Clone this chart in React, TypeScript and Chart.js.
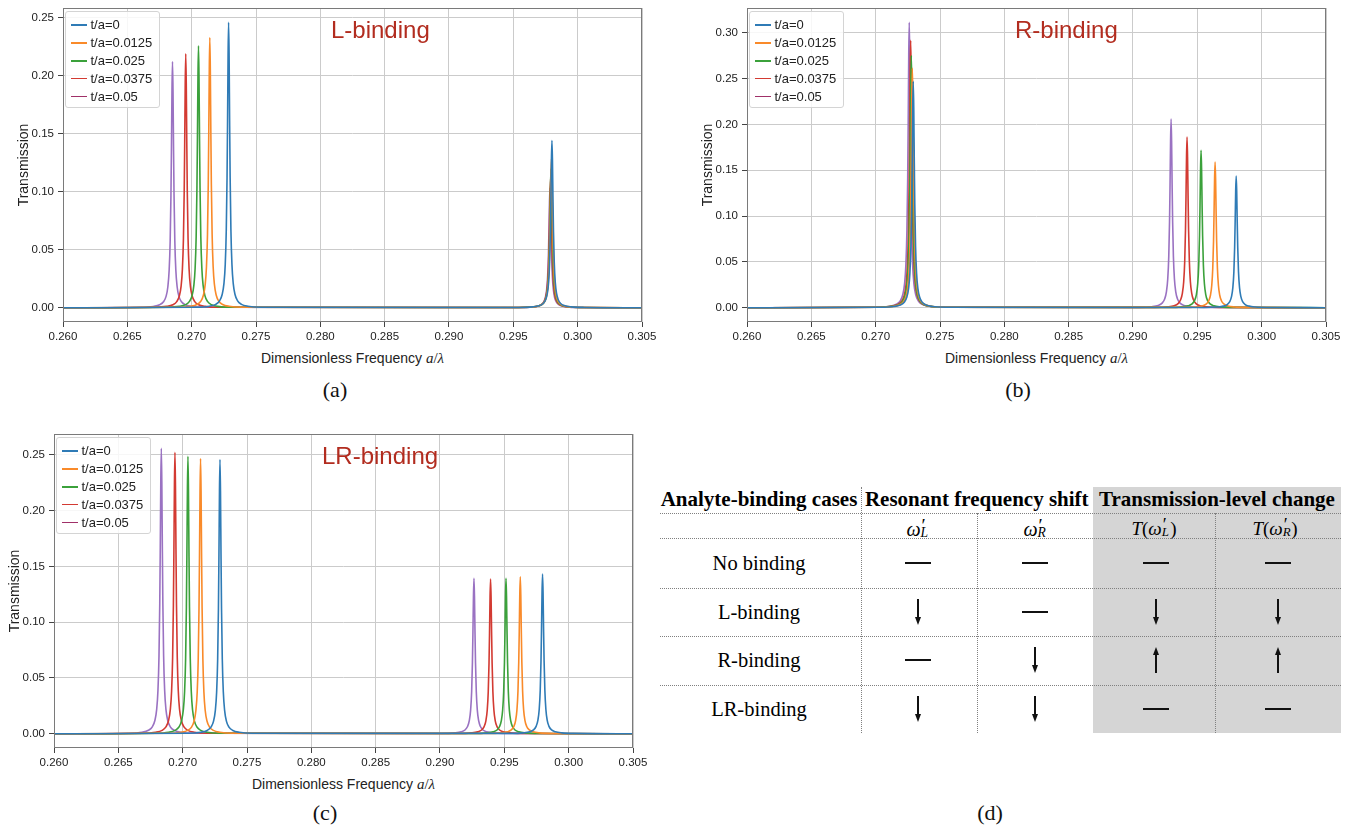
import React, { useEffect, useRef } from 'react';
import { Chart, registerables } from 'chart.js';

Chart.register(...registerables);
Chart.defaults.font.family = "'Liberation Sans', Arial, sans-serif";

// ---------------- data ----------------
const seriesLabels = ['t/a=0', 't/a=0.0125', 't/a=0.025', 't/a=0.0375', 't/a=0.05'];
const xTicks = [0.26, 0.265, 0.27, 0.275, 0.28, 0.285, 0.29, 0.295, 0.3, 0.305];
const yTicksL = [0, 0.05, 0.1, 0.15, 0.2, 0.25];
const yTicksR = [0, 0.05, 0.1, 0.15, 0.2, 0.25, 0.3];
const yTicksLR = [0, 0.05, 0.1, 0.15, 0.2, 0.25];

// (a) L-binding: resonance frequencies and peak transmissions
const lFirstFreq = [0.27287, 0.27141, 0.27053, 0.26954, 0.26851];
const lFirstHeight = [0.2463, 0.233, 0.2259, 0.219, 0.2124];
const lSecondFreq = [0.298, 0.29796, 0.29793, 0.29789, 0.29785];
const lSecondHeight = [0.1442, 0.1282, 0.1196, 0.111, 0.1033];

// (b) R-binding
const rFirstFreq = [0.27292, 0.27285, 0.27277, 0.27272, 0.27261];
const rFirstHeight = [0.2469, 0.2615, 0.2749, 0.2916, 0.3113];
const rSecondFreq = [0.29802, 0.29638, 0.29529, 0.2942, 0.29296];
const rSecondHeight = [0.1436, 0.1589, 0.1716, 0.1862, 0.2058];

// (c) LR-binding
const lrFirstFreq = [0.2729, 0.27139, 0.27041, 0.2694, 0.26834];
const lrFirstHeight = [0.2458, 0.2467, 0.2488, 0.2524, 0.256];
const lrSecondFreq = [0.29797, 0.29624, 0.29513, 0.29393, 0.29264];
const lrSecondHeight = [0.1432, 0.1408, 0.1393, 0.1387, 0.1393];

// shape of one resonance: offset from centre, share of peak height
const profileOffset = [-0.0025, -0.0015, -0.001, -0.0007, -0.0005, -0.00036, -0.00026, -0.00018, -0.00012, -0.00008, -0.00004, 0, 0.00004, 0.00008, 0.00012, 0.00018, 0.00026, 0.00036, 0.0005, 0.0007, 0.001, 0.0015, 0.0025];
const profileFraction = [0.0019, 0.0053, 0.012, 0.0241, 0.0462, 0.0854, 0.152, 0.272, 0.457, 0.654, 0.883, 1, 0.883, 0.654, 0.457, 0.272, 0.152, 0.0854, 0.0462, 0.0241, 0.012, 0.0053, 0.0019];

// table (d): 'flat' = no change, 'down' = decrease, 'up' = increase
const tableHeaders = ['Analyte-binding cases', 'Resonant frequency shift', 'Transmission-level change'];
const tableCases = ['No binding', 'L-binding', 'R-binding', 'LR-binding'];
const shiftOmegaL = ['flat', 'down', 'flat', 'down'];
const shiftOmegaR = ['flat', 'flat', 'down', 'down'];
const levelOmegaL = ['flat', 'down', 'up', 'flat'];
const levelOmegaR = ['flat', 'down', 'up', 'flat'];

// ---------------- styling ----------------
const curveColors = ['#2f7bb6', '#f98a2a', '#3ba13b', '#d33a32', '#9a72c2'];
const legendColors = ['#2f7bb6', '#f98a2a', '#3ba13b', '#d33a32', '#a03068'];
const SANS = "'Liberation Sans', Arial, sans-serif";
const SERIF = "'Liberation Serif', 'Times New Roman', serif";
const PLOT_W = 579;
const PLOT_H = 314;
const AXIS_W = 63;
const PAD_TOP = 8;
const CANVAS_W = 660;
const CANVAS_H = 345;

type PeakSet = { freq: number[]; height: number[] };

function buildDatasets(peaks: PeakSet[]) {
  return seriesLabels.map((label, i) => {
    const pts: { x: number; y: number }[] = [{ x: xTicks[0], y: 0 }];
    peaks.forEach((p) => {
      profileOffset.forEach((d, k) => {
        pts.push({ x: p.freq[i] + d, y: p.height[i] * profileFraction[k] });
      });
    });
    pts.push({ x: xTicks[xTicks.length - 1], y: 0 });
    return {
      label,
      data: pts,
      borderColor: curveColors[i],
      backgroundColor: curveColors[i],
      borderWidth: 1.6,
      pointRadius: 0,
      fill: false,
      cubicInterpolationMode: 'monotone' as const,
      borderJoinStyle: 'round' as const,
    };
  });
}

const framePlugin = {
  id: 'frame',
  afterDatasetsDraw(chart: any) {
    const { ctx, chartArea } = chart;
    const { left, top, right, bottom } = chartArea;
    ctx.save();
    ctx.strokeStyle = '#7a7a7a';
    ctx.lineWidth = 1;
    ctx.strokeRect(left + 0.5, top + 0.5, right - left - 1, bottom - top - 1);
    ctx.restore();
  },
};

type PanelProps = {
  plotLeft: number;
  plotTop: number;
  yMin: number;
  yMax: number;
  yTicks: number[];
  peaks: PeakSet[];
  title: string;
  caption: string;
  captionX: number;
  captionY: number;
};

function Panel(props: PanelProps) {
  const { plotLeft, plotTop, yMin, yMax, yTicks, peaks, title, caption, captionX, captionY } = props;
  const ref = useRef<HTMLCanvasElement>(null);
  useEffect(() => {
    const chart = new Chart(ref.current as HTMLCanvasElement, {
      type: 'line',
      data: { datasets: buildDatasets(peaks) as any },
      options: {
        responsive: false,
        animation: false,
        events: [],
        layout: { padding: { left: 0, top: PAD_TOP, right: CANVAS_W - AXIS_W - PLOT_W, bottom: 0 } },
        plugins: { legend: { display: false }, tooltip: { enabled: false } },
        scales: {
          x: {
            type: 'linear',
            min: xTicks[0],
            max: xTicks[xTicks.length - 1],
            bounds: 'data',
            afterBuildTicks: (axis: any) => {
              axis.ticks = xTicks.map((v) => ({ value: v }));
            },
            afterFit: (s: any) => {
              s.height = CANVAS_H - PAD_TOP - PLOT_H;
              s.paddingLeft = 0;
              s.paddingRight = 0;
              s.paddingTop = 0;
              s.paddingBottom = 0;
            },
            ticks: {
              callback: (v: any) => Number(v).toFixed(3),
              autoSkip: false,
              maxRotation: 0,
              minRotation: 0,
              padding: 3,
              color: '#222',
              font: { size: 11.5 },
            },
            grid: { color: '#cbcbcb', lineWidth: 1, tickLength: 5, tickColor: '#444' },
            border: { display: false },
          },
          y: {
            type: 'linear',
            min: yMin,
            max: yMax,
            bounds: 'data',
            afterBuildTicks: (axis: any) => {
              axis.ticks = yTicks.map((v) => ({ value: v }));
            },
            afterFit: (s: any) => {
              s.width = AXIS_W;
              s.paddingLeft = 0;
              s.paddingRight = 0;
              s.paddingTop = 0;
              s.paddingBottom = 0;
            },
            ticks: {
              callback: (v: any) => Number(v).toFixed(2),
              autoSkip: false,
              padding: 4,
              color: '#222',
              font: { size: 11.5 },
            },
            grid: { color: '#cbcbcb', lineWidth: 1, tickLength: 5, tickColor: '#444' },
            border: { display: false },
            title: {
              display: true,
              text: 'Transmission',
              color: '#222',
              font: { size: 14 },
              padding: { top: 16, bottom: 0 },
            },
          },
        },
      } as any,
      plugins: [framePlugin],
    });
    return () => chart.destroy();
  }, []);

  const canvasLeft = plotLeft - AXIS_W;
  const canvasTop = plotTop - PAD_TOP;
  return (
    <>
      <canvas
        ref={ref}
        width={CANVAS_W}
        height={CANVAS_H}
        style={{ position: 'absolute', left: canvasLeft, top: canvasTop, width: CANVAS_W, height: CANVAS_H, display: 'block' }}
      />
      {/* legend */}
      <div
        style={{
          position: 'absolute',
          left: plotLeft + 1.5,
          top: plotTop + 3,
          width: 95,
          height: 97,
          boxSizing: 'border-box',
          background: 'rgba(255,255,255,0.85)',
          border: '1px solid #d4d4d4',
          borderRadius: 3,
        }}
      >
        {seriesLabels.map((lab, i) => (
          <div key={lab} style={{ position: 'absolute', left: 0, top: 13 + i * 17.9 - 8, height: 16, width: 93 }}>
            <div style={{ position: 'absolute', left: 5, top: 7.2, width: 16, height: 1.6, background: legendColors[i] }} />
            <div
              style={{
                position: 'absolute',
                left: 25,
                top: 0,
                height: 16,
                lineHeight: '16px',
                fontFamily: SANS,
                fontSize: 13,
                color: '#222',
                whiteSpace: 'nowrap',
              }}
            >
              {lab}
            </div>
          </div>
        ))}
      </div>
      {/* panel title */}
      <div
        style={{
          position: 'absolute',
          left: plotLeft + 268,
          top: plotTop + 22,
          transform: 'translateY(-50%)',
          fontFamily: SANS,
          fontSize: 24,
          lineHeight: 1,
          color: '#b22c1f',
          whiteSpace: 'nowrap',
        }}
      >
        {title}
      </div>
      {/* x axis title */}
      <div
        style={{
          position: 'absolute',
          left: plotLeft + PLOT_W / 2,
          top: plotTop + 350,
          transform: 'translate(-50%, -50%)',
          fontFamily: SANS,
          fontSize: 14,
          lineHeight: 1,
          color: '#222',
          whiteSpace: 'nowrap',
        }}
      >
        Dimensionless Frequency{' '}
        <span style={{ fontFamily: SERIF, fontStyle: 'italic', fontSize: 15 }}>a</span>
        <span style={{ fontFamily: SERIF, fontSize: 15 }}>/</span>
        <span style={{ fontFamily: SERIF, fontStyle: 'italic', fontSize: 15 }}>λ</span>
      </div>
      {/* caption */}
      <Caption x={captionX} y={captionY} text={caption} />
    </>
  );
}

function Caption({ x, y, text }: { x: number; y: number; text: string }) {
  return (
    <div
      style={{
        position: 'absolute',
        left: x,
        top: y,
        transform: 'translate(-50%, -50%)',
        fontFamily: SERIF,
        fontSize: 22,
        lineHeight: 1,
        color: '#111',
        whiteSpace: 'nowrap',
      }}
    >
      {text}
    </div>
  );
}

function OmegaPrime({ sub }: { sub: string }) {
  return (
    <span style={{ whiteSpace: 'nowrap' }}>
      <i>ω</i>
      <span style={{ display: 'inline-block', position: 'relative', width: '0.45em', height: '1em', verticalAlign: 'baseline' }}>
        <span style={{ position: 'absolute', left: 1, top: '0.02em', fontSize: '0.95em', lineHeight: 1 }}>′</span>
        <span style={{ position: 'absolute', left: 0, top: '0.74em', fontSize: '0.68em', lineHeight: 1, fontStyle: 'italic' }}>{sub}</span>
      </span>
    </span>
  );
}

function Cell({ x, y, children, size, bold }: { x: number; y: number; children: any; size: number; bold?: boolean }) {
  return (
    <div
      style={{
        position: 'absolute',
        left: x,
        top: y,
        transform: 'translate(-50%, -50%)',
        fontFamily: SERIF,
        fontSize: size,
        fontWeight: bold ? 'bold' : 'normal',
        lineHeight: 1,
        color: '#000',
        whiteSpace: 'nowrap',
      }}
    >
      {children}
    </div>
  );
}

function Mark({ x, y, kind }: { x: number; y: number; kind: string }) {
  if (kind === 'flat') {
    return <div style={{ position: 'absolute', left: x - 13, top: y - 1, width: 26, height: 1.8, background: '#111' }} />;
  }
  const down = kind === 'down';
  const top = y - 13;
  return (
    <div style={{ position: 'absolute', left: x - 4, top, width: 8, height: 26 }}>
      <div style={{ position: 'absolute', left: 3.3, top: down ? 0 : 7, width: 1.4, height: 19, background: '#111' }} />
      <div
        style={{
          position: 'absolute',
          left: 1,
          top: down ? 18 : 0,
          width: 0,
          height: 0,
          borderLeft: '3px solid transparent',
          borderRight: '3px solid transparent',
          ...(down ? { borderTop: '8px solid #111' } : { borderBottom: '8px solid #111' }),
        }}
      />
    </div>
  );
}

function Table() {
  const left = 660;
  const right = 1341;
  const top = 487;
  const bottom = 733;
  const colX = [860.5, 977, 1093, 1215];
  const colCenter = [759, 918, 1035, 1156, 1278];
  const headerY = 499;
  const headerLine = 513;
  const subY = 527;
  const subLine = 538;
  const rowY = [563, 612, 660, 709];
  const rowLines = [587.5, 636, 684.5];
  const hLine = (y: number, key: string) => (
    <div key={key} style={{ position: 'absolute', left, top: y, width: right - left, height: 0, borderTop: '1px dotted #808080' }} />
  );
  const vLine = (x: number, y0: number, key: string) => (
    <div key={key} style={{ position: 'absolute', left: x, top: y0, width: 0, height: bottom - y0, borderLeft: '1px dotted #808080' }} />
  );
  const markCols = [shiftOmegaL, shiftOmegaR, levelOmegaL, levelOmegaR];
  return (
    <>
      <div style={{ position: 'absolute', left: colX[2], top, width: right - colX[2], height: bottom - top, background: '#d5d5d5' }} />
      {hLine(headerLine, 'h0')}
      {hLine(subLine, 'h1')}
      {rowLines.map((y, i) => hLine(y, 'r' + i))}
      {vLine(colX[0], top, 'v0')}
      {vLine(colX[1], headerLine, 'v1')}
      {vLine(colX[3], headerLine, 'v3')}
      <Cell x={colCenter[0]} y={headerY} size={21} bold>{tableHeaders[0]}</Cell>
      <Cell x={(colX[0] + colX[2]) / 2} y={headerY} size={21} bold>{tableHeaders[1]}</Cell>
      <Cell x={(colX[2] + right) / 2} y={headerY} size={21} bold>{tableHeaders[2]}</Cell>
      <Cell x={colCenter[1]} y={subY} size={20}><OmegaPrime sub="L" /></Cell>
      <Cell x={colCenter[2]} y={subY} size={20}><OmegaPrime sub="R" /></Cell>
      <Cell x={colCenter[3] - 2} y={subY} size={19}>
        <i>T</i>(<OmegaPrime sub="L" />)
      </Cell>
      <Cell x={colCenter[4] - 3} y={subY} size={19}>
        <i>T</i>(<OmegaPrime sub="R" />)
      </Cell>
      {tableCases.map((c, r) => (
        <Cell key={c} x={colCenter[0]} y={rowY[r]} size={20.5}>{c}</Cell>
      ))}
      {markCols.map((col, ci) =>
        col.map((k, r) => <Mark key={ci + '-' + r} x={colCenter[ci + 1]} y={rowY[r]} kind={k} />)
      )}
    </>
  );
}

export default function App() {
  return (
    <div style={{ position: 'absolute', left: 0, top: 0, width: 1351, height: 827, background: '#fff', overflow: 'hidden' }}>
      <Panel
        plotLeft={63}
        plotTop={8}
        yMin={-0.0123}
        yMax={0.2586}
        yTicks={yTicksL}
        peaks={[{ freq: lFirstFreq, height: lFirstHeight }, { freq: lSecondFreq, height: lSecondHeight }]}
        title="L-binding"
        caption="(a)"
        captionX={335}
        captionY={390}
      />
      <Panel
        plotLeft={747}
        plotTop={8}
        yMin={-0.0156}
        yMax={0.3269}
        yTicks={yTicksR}
        peaks={[{ freq: rFirstFreq, height: rFirstHeight }, { freq: rSecondFreq, height: rSecondHeight }]}
        title="R-binding"
        caption="(b)"
        captionX={1018}
        captionY={390}
      />
      <Panel
        plotLeft={54}
        plotTop={434}
        yMin={-0.0128}
        yMax={0.2688}
        yTicks={yTicksLR}
        peaks={[{ freq: lrFirstFreq, height: lrFirstHeight }, { freq: lrSecondFreq, height: lrSecondHeight }]}
        title="LR-binding"
        caption="(c)"
        captionX={325}
        captionY={813}
      />
      <Table />
      <Caption x={990} y={813} text="(d)" />
    </div>
  );
}
